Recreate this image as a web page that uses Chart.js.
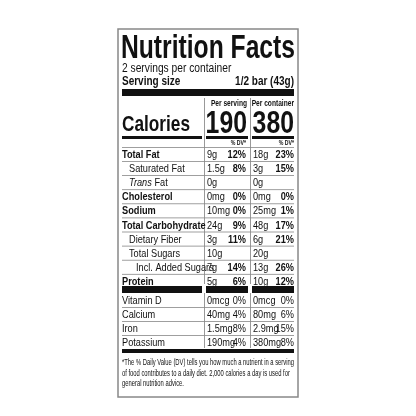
<!DOCTYPE html>
<html><head><meta charset="utf-8">
<script src="https://cdn.jsdelivr.net/npm/chart.js@4"></script>
<style>html,body{margin:0;padding:0;background:#fff}canvas{display:block}</style>
</head><body><canvas id="c" width="416" height="416"></canvas>
<script>
const servingsText = "2 servings per container";
const servingSize = "1/2 bar (43g)";
const calories = ["190", "380"];
const nutrients = ["Total Fat","Saturated Fat","Trans Fat","Cholesterol","Sodium","Total Carbohydrate","Dietary Fiber","Total Sugars","Incl. Added Sugars","Protein"];
const indent = [0,1,1,0,0,0,1,1,2,0];
const bold = [1,0,0,1,1,1,0,0,0,1];
const amtServing = ["9g","1.5g","0g","0mg","10mg","24g","3g","10g","7g","5g"];
const dvServing = ["12%","8%","","0%","0%","9%","11%","","14%","6%"];
const amtContainer = ["18g","3g","0g","0mg","25mg","48g","6g","20g","13g","10g"];
const dvContainer = ["23%","15%","","0%","1%","17%","21%","","26%","12%"];
const vitamins = ["Vitamin D","Calcium","Iron","Potassium"];
const vitAmtServing = ["0mcg","40mg","1.5mg","190mg"];
const vitDvServing = ["0%","4%","8%","4%"];
const vitAmtContainer = ["0mcg","80mg","2.9mg","380mg"];
const vitDvContainer = ["0%","6%","15%","8%"];
const footnote = ["*The % Daily Value (DV) tells you how much a nutrient in a serving","of food contributes to a daily diet. 2,000 calories a day is used for","general nutrition advice."];

const N = "'Liberation Sans', Arial, sans-serif";
const labelPlugin = {
  id: 'label',
  afterDraw(chart) {
    const c = chart.ctx;
    c.save();
    const L = 118, R = 298, T = 29, B = 397;
    c.strokeStyle = '#888'; c.lineWidth = 1.5; c.strokeRect(L, T, R - L, B - T);
    c.fillStyle = '#111'; c.textBaseline = 'alphabetic';
    const x0 = 122, x1 = 294, d1 = 204, d2 = 250;
    const f = (w, s) => c.font = w + ' ' + s + 'px ' + N;
    let SX = 0.8;
    const t = (s, x, y, al, sx) => { c.save(); c.translate(x, y); c.scale(sx || SX, 1); c.textAlign = al || 'left'; c.fillText(s, 0, 0); c.restore(); };
    const fit = (s, w) => w / c.measureText(s).width;
    const rect = (x, y, w, h) => c.fillRect(x, y, w, h);
    f('bold', 33); t('Nutrition Facts', x0 - 1, 58, 'left', fit('Nutrition Facts', 174));
    f('normal', 12.5); t(servingsText, x0, 72, 'left', 0.82);
    f('bold', 12.5); t('Serving size', x0, 85, 'left', 0.8); t(servingSize, x1, 85, 'right', 0.8);
    rect(x0, 89, x1 - x0, 7);
    c.fillStyle = '#999'; rect(d1, 98, 1, 186); rect(d2, 98, 1, 186);
    rect(d1, 293, 1, 55); rect(d2, 293, 1, 55);
    c.fillStyle = '#111';
    f('bold', 8.5); t('Per serving', d2 - 3, 106, 'right', 0.78); t('Per container', x1, 106, 'right', 0.78);
    f('bold', 31); t(calories[0], d2 - 3, 133, 'right', 0.8); t(calories[1], x1, 133, 'right', 0.8);
    f('bold', 22); t('Calories', x0, 131, 'left', fit('Calories', 68));
    rect(x0, 136, d1 - x0 - 2, 3); rect(d1 + 2, 136, d2 - d1 - 4, 3); rect(d2 + 2, 136, x1 - d2 - 2, 3);
    f('bold', 6.5); t('% DV*', d2 - 4, 145, 'right'); t('% DV*', x1, 145, 'right');
    const rowH = 14.1;
    const y = 147;
    for (let i = 0; i < nutrients.length; i++) {
      const top = y + i * rowH;
      c.fillStyle = '#888'; rect(x0, top, x1 - x0, 0.8); c.fillStyle = '#111';
      const base = top + 11;
      f(bold[i] ? 'bold' : 'normal', 11.5);
      if (nutrients[i] === 'Trans Fat') {
        c.font = 'italic 11.5px ' + N; t('Trans', x0 + 7, base);
        const w = c.measureText('Trans ').width * SX; f('normal', 11.5); t('Fat', x0 + 7 + w, base);
      } else t(nutrients[i], x0 + indent[i] * 7, base);
      f('normal', 11.5); t(amtServing[i], d1 + 3, base); t(amtContainer[i], d2 + 3, base);
      f('bold', 11.5); t(dvServing[i], d2 - 4, base, 'right'); t(dvContainer[i], x1, base, 'right');
    }
    rect(x0, 286, d1 - x0 - 2, 7); rect(d1 + 2, 286, d2 - d1 - 4, 7); rect(d2 + 2, 286, x1 - d2 - 2, 7);
    for (let i = 0; i < vitamins.length; i++) {
      const top = 293 + i * 14;
      if (i > 0) { c.fillStyle = '#888'; rect(x0, top, x1 - x0, 0.8); c.fillStyle = '#111'; }
      const base = top + 11;
      f('normal', 11.5);
      t(vitamins[i], x0, base); t(vitAmtServing[i], d1 + 3, base); t(vitAmtContainer[i], d2 + 3, base);
      t(vitDvServing[i], d2 - 4, base, 'right'); t(vitDvContainer[i], x1, base, 'right');
    }
    rect(x0, 349, x1 - x0, 4);
    f('normal', 8.8);
    const fs = fit(footnote[0], 172);
    footnote.forEach((s, i) => t(s, x0, 365 + i * 10.5, 'left', fs));
    c.restore();
  }
};
new Chart(document.getElementById('c'), {
  type: 'bar',
  data: { labels: nutrients, datasets: [{ data: [], backgroundColor: 'transparent' }] },
  options: { responsive: false, animation: false, events: [],
    plugins: { legend: { display: false }, tooltip: { enabled: false } },
    scales: { x: { display: false }, y: { display: false } } },
  plugins: [labelPlugin]
});
</script></body></html>
